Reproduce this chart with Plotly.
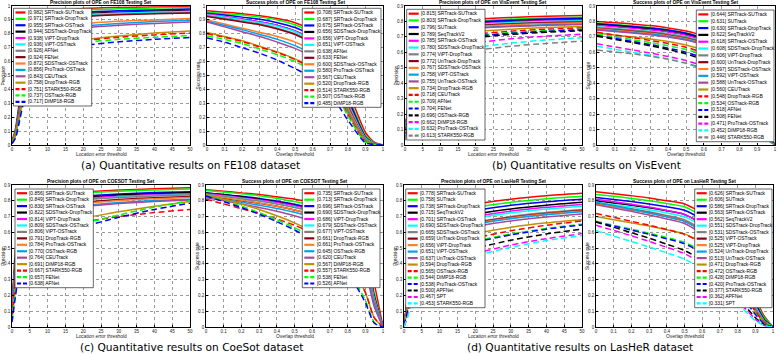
import plotly.graph_objects as go

W, H = 777, 354

# thresholds sampled on the x axis
PREC_X = [0, 1, 2, 3, 5, 8, 12, 20, 30, 40, 50]
SUCC_X = [0, 0.1, 0.2, 0.3, 0.4, 0.5, 0.6, 0.7, 0.8, 0.9, 0.95, 1.0]

PREC_TICKS = [0, 5, 10, 15, 20, 25, 30, 35, 40, 45, 50]
SUCC_TICKS = [0, 0.1, 0.2, 0.3, 0.4, 0.5, 0.6, 0.7, 0.8, 0.9, 1]
SUCC_TICK_TEXT = ['0', '0.1', '0.2', '0.3', '0.4', '0.5', '0.6', '0.7', '0.8', '0.9', '1']
Y_TICKS_10 = [0, 0.1, 0.2, 0.3, 0.4, 0.5, 0.6, 0.7, 0.8, 0.9, 1]
Y_TEXT_10 = ['0', '0.1', '0.2', '0.3', '0.4', '0.5', '0.6', '0.7', '0.8', '0.9', '1']
Y_TICKS_09 = [0, 0.1, 0.2, 0.3, 0.4, 0.5, 0.6, 0.7, 0.8, 0.9]
Y_TEXT_09 = ['0', '0.1', '0.2', '0.3', '0.4', '0.5', '0.6', '0.7', '0.8', '0.9']

# ---------------- FE108 ----------------
FE108_PREC_NAMES = ['SRTrack-SUTrack', 'SRTrack-DropTrack', 'SRTrack-OSTrack', 'SDSTrack-DropTrack',
                    'ViPT-DropTrack', 'ViPT-OSTrack', 'AFNet', 'FENet', 'SDSTrack-OSTrack',
                    'ProTrack-OSTrack', 'CEUTrack', 'DropTrack-RGB', 'STARK550-RGB', 'OSTrack-RGB',
                    'DiMP18-RGB']
FE108_PREC_SCORES = [0.982, 0.971, 0.955, 0.944, 0.938, 0.936, 0.926, 0.924, 0.872, 0.856,
                     0.843, 0.758, 0.751, 0.737, 0.717]
FE108_PREC_Y = [
    [0.03, 0.12, 0.30, 0.48, 0.72, 0.88, 0.95, 0.982, 0.99, 0.993, 0.995],
    [0.02, 0.11, 0.28, 0.46, 0.70, 0.87, 0.94, 0.971, 0.98, 0.985, 0.99],
    [0.02, 0.10, 0.27, 0.44, 0.68, 0.85, 0.93, 0.955, 0.965, 0.972, 0.978],
    [0.02, 0.10, 0.26, 0.43, 0.67, 0.84, 0.92, 0.944, 0.955, 0.962, 0.968],
    [0.02, 0.09, 0.25, 0.42, 0.66, 0.83, 0.91, 0.938, 0.95, 0.957, 0.963],
    [0.02, 0.09, 0.25, 0.41, 0.65, 0.83, 0.91, 0.936, 0.948, 0.955, 0.96],
    [0.02, 0.09, 0.24, 0.40, 0.64, 0.82, 0.90, 0.926, 0.94, 0.947, 0.952],
    [0.02, 0.08, 0.24, 0.40, 0.63, 0.81, 0.90, 0.924, 0.937, 0.944, 0.95],
    [0.02, 0.08, 0.22, 0.37, 0.59, 0.76, 0.84, 0.872, 0.89, 0.90, 0.91],
    [0.01, 0.08, 0.21, 0.36, 0.58, 0.75, 0.83, 0.856, 0.875, 0.888, 0.897],
    [0.01, 0.07, 0.20, 0.35, 0.57, 0.74, 0.82, 0.843, 0.862, 0.875, 0.885],
    [0.01, 0.07, 0.19, 0.32, 0.52, 0.67, 0.73, 0.758, 0.785, 0.805, 0.82],
    [0.01, 0.06, 0.18, 0.31, 0.51, 0.66, 0.72, 0.751, 0.775, 0.792, 0.805],
    [0.01, 0.06, 0.17, 0.30, 0.50, 0.65, 0.71, 0.737, 0.76, 0.775, 0.787],
    [0.01, 0.05, 0.16, 0.28, 0.48, 0.63, 0.69, 0.717, 0.742, 0.76, 0.773],
]

FE108_SUCC_NAMES = FE108_PREC_NAMES
FE108_SUCC_SCORES = [0.708, 0.687, 0.675, 0.656, 0.656, 0.651, 0.638, 0.633, 0.600, 0.580,
                     0.567, 0.520, 0.514, 0.507, 0.485]
FE108_SUCC_Y = [
    [0.965, 0.955, 0.945, 0.93, 0.91, 0.88, 0.82, 0.68, 0.40, 0.09, 0.02, 0],
    [0.955, 0.945, 0.935, 0.92, 0.90, 0.865, 0.80, 0.65, 0.36, 0.07, 0.015, 0],
    [0.948, 0.935, 0.92, 0.905, 0.88, 0.845, 0.78, 0.63, 0.34, 0.06, 0.012, 0],
    [0.935, 0.92, 0.905, 0.885, 0.86, 0.82, 0.755, 0.60, 0.32, 0.05, 0.01, 0],
    [0.94, 0.925, 0.905, 0.885, 0.86, 0.82, 0.75, 0.60, 0.31, 0.05, 0.01, 0],
    [0.935, 0.92, 0.90, 0.88, 0.855, 0.815, 0.745, 0.595, 0.30, 0.05, 0.01, 0],
    [0.93, 0.91, 0.89, 0.87, 0.84, 0.80, 0.73, 0.58, 0.29, 0.045, 0.009, 0],
    [0.925, 0.905, 0.885, 0.865, 0.835, 0.795, 0.725, 0.57, 0.28, 0.04, 0.008, 0],
    [0.90, 0.87, 0.84, 0.81, 0.78, 0.74, 0.68, 0.55, 0.27, 0.04, 0.008, 0],
    [0.89, 0.86, 0.83, 0.795, 0.76, 0.715, 0.65, 0.52, 0.25, 0.035, 0.007, 0],
    [0.885, 0.85, 0.815, 0.78, 0.74, 0.695, 0.63, 0.50, 0.24, 0.03, 0.006, 0],
    [0.81, 0.78, 0.75, 0.71, 0.67, 0.62, 0.56, 0.46, 0.23, 0.03, 0.006, 0],
    [0.80, 0.775, 0.745, 0.705, 0.665, 0.615, 0.55, 0.45, 0.22, 0.025, 0.005, 0],
    [0.785, 0.76, 0.73, 0.69, 0.65, 0.60, 0.535, 0.44, 0.21, 0.02, 0.004, 0],
    [0.77, 0.74, 0.70, 0.66, 0.61, 0.55, 0.48, 0.37, 0.18, 0.015, 0.003, 0],
]

# ---------------- VisEvent ----------------
VIS_PREC_NAMES = ['SRTrack-SUTrack', 'SRTrack-DropTrack', 'SUTrack', 'SeqTrackV2', 'SRTrack-OSTrack',
                  'SDSTrack-DropTrack', 'ViPT-DropTrack', 'UnTrack-DropTrack', 'SDSTrack-OSTrack',
                  'ViPT-OSTrack', 'UnTrack-OSTrack', 'DropTrack-RGB', 'CEUTrack', 'AFNet', 'FENet',
                  'OSTrack-RGB', 'DiMP18-RGB', 'ProTrack-OSTrack', 'STARK550-RGB']
VIS_PREC_SCORES = [0.815, 0.803, 0.796, 0.789, 0.785, 0.780, 0.774, 0.772, 0.767, 0.758, 0.755,
                   0.734, 0.718, 0.709, 0.704, 0.696, 0.662, 0.632, 0.613]
VIS_PREC_Y = [
    [0.08, 0.30, 0.50, 0.62, 0.72, 0.77, 0.795, 0.815, 0.826, 0.833, 0.838],
    [0.07, 0.29, 0.49, 0.61, 0.71, 0.76, 0.784, 0.803, 0.815, 0.822, 0.827],
    [0.07, 0.28, 0.48, 0.60, 0.70, 0.75, 0.777, 0.796, 0.808, 0.816, 0.821],
    [0.07, 0.28, 0.48, 0.60, 0.695, 0.745, 0.77, 0.789, 0.80, 0.808, 0.813],
    [0.07, 0.27, 0.47, 0.59, 0.69, 0.74, 0.765, 0.785, 0.797, 0.805, 0.81],
    [0.06, 0.27, 0.47, 0.59, 0.685, 0.735, 0.76, 0.780, 0.792, 0.80, 0.805],
    [0.06, 0.26, 0.46, 0.58, 0.68, 0.73, 0.755, 0.774, 0.786, 0.794, 0.80],
    [0.06, 0.26, 0.46, 0.58, 0.675, 0.725, 0.752, 0.772, 0.784, 0.792, 0.797],
    [0.06, 0.26, 0.45, 0.57, 0.67, 0.72, 0.747, 0.767, 0.779, 0.787, 0.792],
    [0.06, 0.25, 0.45, 0.56, 0.66, 0.71, 0.738, 0.758, 0.77, 0.778, 0.783],
    [0.05, 0.25, 0.44, 0.56, 0.655, 0.705, 0.735, 0.755, 0.767, 0.775, 0.78],
    [0.05, 0.23, 0.42, 0.53, 0.63, 0.68, 0.71, 0.734, 0.75, 0.76, 0.767],
    [0.05, 0.22, 0.40, 0.51, 0.61, 0.66, 0.693, 0.718, 0.737, 0.75, 0.758],
    [0.05, 0.22, 0.39, 0.50, 0.60, 0.65, 0.684, 0.709, 0.728, 0.741, 0.75],
    [0.04, 0.21, 0.39, 0.50, 0.595, 0.645, 0.679, 0.704, 0.723, 0.736, 0.745],
    [0.04, 0.21, 0.38, 0.49, 0.585, 0.635, 0.67, 0.696, 0.716, 0.73, 0.74],
    [0.04, 0.19, 0.35, 0.46, 0.55, 0.60, 0.635, 0.662, 0.688, 0.705, 0.717],
    [0.03, 0.17, 0.32, 0.43, 0.52, 0.57, 0.605, 0.632, 0.66, 0.68, 0.695],
    [0.03, 0.16, 0.31, 0.41, 0.50, 0.55, 0.587, 0.613, 0.64, 0.658, 0.672],
]

VIS_SUCC_NAMES = ['SRTrack-SUTrack', 'SUTrack', 'SRTrack-DropTrack', 'SeqTrackV2', 'SRTrack-OSTrack',
                  'SDSTrack-DropTrack', 'ViPT-DropTrack', 'UnTrack-DropTrack', 'SDSTrack-OSTrack',
                  'ViPT-OSTrack', 'UnTrack-OSTrack', 'CEUTrack', 'DropTrack-RGB', 'OSTrack-RGB',
                  'AFNet', 'FENet', 'ProTrack-OSTrack', 'DiMP18-RGB', 'STARK550-RGB']
VIS_SUCC_SCORES = [0.644, 0.631, 0.630, 0.622, 0.618, 0.608, 0.606, 0.600, 0.597, 0.592, 0.588,
                   0.560, 0.548, 0.534, 0.518, 0.508, 0.471, 0.452, 0.446]
VIS_SUCC_Y = [
    [0.80, 0.792, 0.783, 0.773, 0.758, 0.738, 0.705, 0.645, 0.52, 0.30, 0.10, 0],
    [0.79, 0.78, 0.77, 0.76, 0.745, 0.725, 0.69, 0.63, 0.505, 0.285, 0.095, 0],
    [0.785, 0.777, 0.768, 0.758, 0.744, 0.724, 0.69, 0.63, 0.505, 0.29, 0.095, 0],
    [0.78, 0.77, 0.76, 0.75, 0.735, 0.715, 0.68, 0.62, 0.495, 0.28, 0.09, 0],
    [0.775, 0.766, 0.756, 0.746, 0.731, 0.711, 0.677, 0.617, 0.492, 0.275, 0.09, 0],
    [0.765, 0.755, 0.745, 0.735, 0.72, 0.70, 0.667, 0.607, 0.483, 0.27, 0.088, 0],
    [0.76, 0.752, 0.743, 0.733, 0.718, 0.698, 0.665, 0.605, 0.482, 0.27, 0.087, 0],
    [0.755, 0.746, 0.736, 0.726, 0.711, 0.691, 0.658, 0.60, 0.478, 0.265, 0.085, 0],
    [0.752, 0.743, 0.733, 0.723, 0.708, 0.688, 0.655, 0.597, 0.475, 0.263, 0.085, 0],
    [0.748, 0.738, 0.728, 0.718, 0.703, 0.683, 0.65, 0.592, 0.47, 0.26, 0.083, 0],
    [0.745, 0.735, 0.725, 0.714, 0.699, 0.679, 0.646, 0.588, 0.466, 0.257, 0.082, 0],
    [0.725, 0.712, 0.70, 0.687, 0.67, 0.648, 0.614, 0.556, 0.44, 0.24, 0.077, 0],
    [0.73, 0.712, 0.695, 0.677, 0.657, 0.633, 0.597, 0.537, 0.42, 0.22, 0.07, 0],
    [0.72, 0.70, 0.682, 0.663, 0.642, 0.618, 0.582, 0.522, 0.405, 0.21, 0.066, 0],
    [0.71, 0.69, 0.67, 0.65, 0.627, 0.601, 0.563, 0.50, 0.385, 0.195, 0.06, 0],
    [0.705, 0.684, 0.663, 0.642, 0.618, 0.59, 0.55, 0.487, 0.37, 0.185, 0.057, 0],
    [0.655, 0.635, 0.615, 0.595, 0.573, 0.547, 0.51, 0.45, 0.345, 0.17, 0.052, 0],
    [0.64, 0.62, 0.60, 0.58, 0.556, 0.528, 0.49, 0.43, 0.32, 0.14, 0.04, 0],
    [0.615, 0.603, 0.59, 0.575, 0.555, 0.53, 0.494, 0.435, 0.325, 0.15, 0.045, 0],
]

# ---------------- COESOT ----------------
COE_PREC_NAMES = ['SRTrack-SUTrack', 'SRTrack-DropTrack', 'SRTrack-OSTrack', 'SDSTrack-DropTrack',
                  'ViPT-DropTrack', 'SDSTrack-OSTrack', 'ViPT-OSTrack', 'DropTrack-RGB',
                  'ProTrack-OSTrack', 'OSTrack-RGB', 'CEUTrack', 'DiMP18-RGB', 'STARK550-RGB',
                  'FENet', 'AFNet']
COE_PREC_SCORES = [0.856, 0.849, 0.830, 0.822, 0.814, 0.809, 0.806, 0.791, 0.784, 0.770, 0.764,
                   0.691, 0.667, 0.657, 0.638]
COE_PREC_Y = [
    [0.14, 0.50, 0.66, 0.74, 0.80, 0.83, 0.845, 0.856, 0.868, 0.876, 0.882],
    [0.12, 0.47, 0.64, 0.72, 0.79, 0.82, 0.838, 0.849, 0.861, 0.869, 0.875],
    [0.10, 0.44, 0.61, 0.70, 0.77, 0.80, 0.818, 0.830, 0.843, 0.852, 0.858],
    [0.10, 0.43, 0.60, 0.69, 0.76, 0.79, 0.81, 0.822, 0.836, 0.845, 0.852],
    [0.10, 0.42, 0.59, 0.68, 0.75, 0.785, 0.802, 0.814, 0.829, 0.838, 0.845],
    [0.09, 0.41, 0.58, 0.67, 0.745, 0.78, 0.797, 0.809, 0.824, 0.834, 0.84],
    [0.09, 0.40, 0.58, 0.67, 0.74, 0.775, 0.794, 0.806, 0.821, 0.831, 0.838],
    [0.08, 0.38, 0.56, 0.65, 0.725, 0.76, 0.779, 0.791, 0.808, 0.819, 0.827],
    [0.08, 0.37, 0.55, 0.64, 0.715, 0.75, 0.771, 0.784, 0.801, 0.813, 0.821],
    [0.07, 0.35, 0.53, 0.62, 0.70, 0.735, 0.757, 0.770, 0.789, 0.801, 0.81],
    [0.07, 0.34, 0.52, 0.61, 0.69, 0.728, 0.75, 0.764, 0.783, 0.796, 0.805],
    [0.05, 0.26, 0.42, 0.52, 0.60, 0.645, 0.672, 0.691, 0.73, 0.765, 0.795],
    [0.06, 0.28, 0.43, 0.52, 0.59, 0.63, 0.652, 0.667, 0.70, 0.725, 0.745],
    [0.04, 0.23, 0.38, 0.48, 0.56, 0.605, 0.634, 0.657, 0.71, 0.76, 0.80],
    [0.03, 0.20, 0.35, 0.45, 0.53, 0.58, 0.612, 0.638, 0.695, 0.745, 0.785],
]

COE_SUCC_NAMES = COE_PREC_NAMES
COE_SUCC_SCORES = [0.735, 0.713, 0.696, 0.690, 0.686, 0.679, 0.677, 0.661, 0.661, 0.645, 0.620,
                   0.567, 0.557, 0.538, 0.526]
COE_SUCC_Y = [
    [0.87, 0.86, 0.85, 0.84, 0.825, 0.81, 0.79, 0.755, 0.69, 0.52, 0.28, 0],
    [0.865, 0.855, 0.845, 0.832, 0.815, 0.795, 0.77, 0.73, 0.66, 0.47, 0.22, 0],
    [0.85, 0.84, 0.828, 0.815, 0.798, 0.778, 0.752, 0.71, 0.635, 0.45, 0.20, 0],
    [0.85, 0.838, 0.825, 0.81, 0.793, 0.772, 0.745, 0.703, 0.628, 0.44, 0.19, 0],
    [0.845, 0.834, 0.82, 0.806, 0.789, 0.768, 0.741, 0.70, 0.624, 0.435, 0.185, 0],
    [0.84, 0.828, 0.815, 0.80, 0.782, 0.76, 0.733, 0.692, 0.615, 0.425, 0.18, 0],
    [0.84, 0.827, 0.813, 0.798, 0.78, 0.758, 0.731, 0.69, 0.612, 0.42, 0.175, 0],
    [0.83, 0.816, 0.80, 0.784, 0.765, 0.742, 0.714, 0.672, 0.592, 0.40, 0.16, 0],
    [0.835, 0.82, 0.803, 0.786, 0.766, 0.742, 0.713, 0.67, 0.59, 0.40, 0.16, 0],
    [0.825, 0.808, 0.79, 0.772, 0.751, 0.727, 0.697, 0.653, 0.57, 0.38, 0.15, 0],
    [0.82, 0.80, 0.78, 0.758, 0.733, 0.705, 0.672, 0.624, 0.535, 0.35, 0.13, 0],
    [0.84, 0.81, 0.78, 0.745, 0.705, 0.66, 0.605, 0.535, 0.42, 0.22, 0.06, 0],
    [0.81, 0.78, 0.75, 0.72, 0.685, 0.645, 0.595, 0.53, 0.42, 0.22, 0.06, 0],
    [0.835, 0.80, 0.765, 0.725, 0.68, 0.63, 0.57, 0.49, 0.37, 0.17, 0.03, 0],
    [0.83, 0.795, 0.757, 0.715, 0.668, 0.615, 0.553, 0.472, 0.35, 0.155, 0.025, 0],
]

# ---------------- LasHeR ----------------
LAS_PREC_NAMES = ['SRTrack-SUTrack', 'SUTrack', 'SRTrack-DropTrack', 'SeqTrackV2', 'SRTrack-OSTrack',
                  'SDSTrack-DropTrack', 'SDSTrack-OSTrack', 'UnTrack-DropTrack', 'ViPT-DropTrack',
                  'ViPT-OSTrack', 'UnTrack-OSTrack', 'DropTrack-RGB', 'OSTrack-RGB', 'DiMP18-RGB',
                  'ProTrack-OSTrack', 'APFNet', 'SPT', 'STARK550-RGB']
LAS_PREC_SCORES = [0.778, 0.758, 0.738, 0.715, 0.701, 0.690, 0.665, 0.659, 0.656, 0.651, 0.637,
                   0.594, 0.565, 0.544, 0.538, 0.500, 0.467, 0.453]
LAS_PREC_Y = [
    [0.01, 0.20, 0.36, 0.47, 0.60, 0.69, 0.74, 0.778, 0.81, 0.832, 0.847],
    [0.01, 0.18, 0.34, 0.45, 0.58, 0.67, 0.72, 0.758, 0.79, 0.813, 0.828],
    [0.01, 0.17, 0.32, 0.43, 0.56, 0.65, 0.70, 0.738, 0.771, 0.794, 0.81],
    [0.01, 0.16, 0.31, 0.42, 0.54, 0.63, 0.68, 0.715, 0.748, 0.772, 0.79],
    [0.01, 0.15, 0.30, 0.41, 0.53, 0.615, 0.665, 0.701, 0.735, 0.759, 0.777],
    [0.01, 0.15, 0.29, 0.40, 0.52, 0.605, 0.655, 0.690, 0.724, 0.748, 0.766],
    [0.01, 0.14, 0.28, 0.38, 0.50, 0.58, 0.63, 0.665, 0.70, 0.725, 0.744],
    [0.01, 0.14, 0.27, 0.38, 0.495, 0.575, 0.625, 0.659, 0.694, 0.719, 0.738],
    [0.01, 0.14, 0.27, 0.37, 0.49, 0.57, 0.62, 0.656, 0.691, 0.716, 0.735],
    [0.01, 0.13, 0.27, 0.37, 0.485, 0.565, 0.615, 0.651, 0.686, 0.711, 0.73],
    [0.01, 0.13, 0.26, 0.36, 0.475, 0.55, 0.60, 0.637, 0.672, 0.697, 0.716],
    [0.01, 0.12, 0.24, 0.33, 0.44, 0.51, 0.56, 0.594, 0.632, 0.66, 0.68],
    [0.01, 0.11, 0.22, 0.31, 0.41, 0.48, 0.53, 0.565, 0.61, 0.645, 0.672],
    [0.01, 0.10, 0.21, 0.29, 0.39, 0.46, 0.51, 0.544, 0.59, 0.625, 0.652],
    [0.01, 0.10, 0.20, 0.29, 0.385, 0.455, 0.505, 0.538, 0.584, 0.62, 0.647],
    [0.00, 0.08, 0.18, 0.26, 0.35, 0.42, 0.465, 0.500, 0.55, 0.59, 0.62],
    [0.00, 0.07, 0.16, 0.24, 0.32, 0.385, 0.43, 0.467, 0.52, 0.56, 0.592],
    [0.00, 0.06, 0.15, 0.23, 0.31, 0.37, 0.415, 0.453, 0.505, 0.548, 0.58],
]

LAS_SUCC_NAMES = ['SRTrack-SUTrack', 'SUTrack', 'SRTrack-DropTrack', 'SRTrack-OSTrack', 'SeqTrackV2',
                  'SDSTrack-DropTrack', 'SDSTrack-OSTrack', 'ViPT-OSTrack', 'ViPT-DropTrack',
                  'UnTrack-DropTrack', 'UnTrack-OSTrack', 'DropTrack-RGB', 'OSTrack-RGB', 'DiMP18-RGB',
                  'ProTrack-OSTrack', 'STARK550-RGB', 'APFNet', 'SPT']
LAS_SUCC_SCORES = [0.626, 0.606, 0.586, 0.563, 0.562, 0.551, 0.531, 0.525, 0.525, 0.524, 0.513,
                   0.471, 0.472, 0.428, 0.420, 0.377, 0.362, 0.331]
LAS_SUCC_Y = [
    [0.857, 0.845, 0.832, 0.818, 0.80, 0.78, 0.72, 0.60, 0.42, 0.18, 0.07, 0],
    [0.84, 0.828, 0.815, 0.80, 0.783, 0.762, 0.70, 0.58, 0.40, 0.165, 0.06, 0],
    [0.82, 0.808, 0.795, 0.78, 0.762, 0.74, 0.68, 0.56, 0.38, 0.15, 0.05, 0],
    [0.80, 0.786, 0.772, 0.756, 0.737, 0.714, 0.652, 0.532, 0.355, 0.135, 0.045, 0],
    [0.81, 0.794, 0.778, 0.76, 0.739, 0.714, 0.65, 0.528, 0.35, 0.13, 0.04, 0],
    [0.79, 0.775, 0.76, 0.743, 0.723, 0.699, 0.637, 0.517, 0.343, 0.13, 0.04, 0],
    [0.785, 0.768, 0.75, 0.73, 0.707, 0.68, 0.615, 0.495, 0.325, 0.12, 0.035, 0],
    [0.785, 0.765, 0.745, 0.724, 0.70, 0.672, 0.607, 0.488, 0.32, 0.115, 0.035, 0],
    [0.78, 0.762, 0.743, 0.723, 0.70, 0.673, 0.608, 0.49, 0.32, 0.115, 0.035, 0],
    [0.79, 0.768, 0.746, 0.723, 0.698, 0.67, 0.605, 0.486, 0.318, 0.112, 0.033, 0],
    [0.775, 0.754, 0.733, 0.71, 0.685, 0.656, 0.59, 0.472, 0.307, 0.108, 0.03, 0],
    [0.70, 0.68, 0.66, 0.64, 0.617, 0.59, 0.535, 0.435, 0.285, 0.10, 0.03, 0],
    [0.72, 0.695, 0.67, 0.645, 0.618, 0.588, 0.53, 0.43, 0.28, 0.10, 0.03, 0],
    [0.67, 0.645, 0.62, 0.595, 0.567, 0.537, 0.48, 0.385, 0.245, 0.085, 0.025, 0],
    [0.665, 0.64, 0.614, 0.588, 0.559, 0.528, 0.47, 0.375, 0.235, 0.08, 0.02, 0],
    [0.665, 0.632, 0.598, 0.563, 0.525, 0.485, 0.42, 0.32, 0.19, 0.06, 0.015, 0],
    [0.645, 0.612, 0.578, 0.543, 0.505, 0.465, 0.40, 0.30, 0.17, 0.05, 0.01, 0],
    [0.61, 0.576, 0.542, 0.507, 0.47, 0.43, 0.365, 0.27, 0.15, 0.04, 0.01, 0],
]

CAPTIONS = ['(a) Quantitative results on FE108 dataset', '(b) Quantitative results on VisEvent',
            '(c) Quantitative results on CoeSot dataset', '(d) Quantitative results on LasHeR dataset']

# matlab tracker-benchmark draw style
COLORS = ['#ff0000', '#00ff00', '#0000ff', '#000000', '#ff00ff', '#00ffff',
          '#808080', '#880015', '#ff7f27', '#00a2e8', '#a349a4', '#bf9000']

PREC = dict(x=PREC_X, xr=[0, 50], xt=PREC_TICKS, xtt=[str(v) for v in PREC_TICKS],
            xlab='Location error threshold', ylab='Precision')
SUCC = dict(x=SUCC_X, xr=[0, 1], xt=SUCC_TICKS, xtt=SUCC_TICK_TEXT,
            xlab='Overlap threshold', ylab='Success rate')

# plot boxes and legend boxes in pixels (left, top, right, bottom)
PANELS = [
    dict(PREC, names=FE108_PREC_NAMES, scores=FE108_PREC_SCORES, ys=FE108_PREC_Y,
         title='Precision plots of OPE on FE108 Testing Set', ytop=1.0, yt=Y_TICKS_10, ytt=Y_TEXT_10,
         box=(12, 6, 190, 145), leg=(13.5, 8.3, 91.7, 106)),
    dict(SUCC, names=FE108_SUCC_NAMES, scores=FE108_SUCC_SCORES, ys=FE108_SUCC_Y,
         title='Success plots of OPE on FE108 Testing Set', ytop=1.0, yt=Y_TICKS_10, ytt=Y_TEXT_10,
         box=(207, 6, 383, 145), leg=(302.3, 8.3, 381, 107.3)),
    dict(PREC, names=VIS_PREC_NAMES, scores=VIS_PREC_SCORES, ys=VIS_PREC_Y,
         title='Precision plots of OPE on VisEvent Testing Set', ytop=0.9, yt=Y_TICKS_09, ytt=Y_TEXT_09,
         box=(405, 6, 582, 145), leg=(406.7, 9.3, 485, 140)),
    dict(SUCC, names=VIS_SUCC_NAMES, scores=VIS_SUCC_SCORES, ys=VIS_SUCC_Y,
         title='Success plots of OPE on VisEvent Testing Set', ytop=0.9, yt=Y_TICKS_09, ytt=Y_TEXT_09,
         box=(597, 6, 775, 145), leg=(696.3, 10, 774, 141.7)),
    dict(PREC, names=COE_PREC_NAMES, scores=COE_PREC_SCORES, ys=COE_PREC_Y,
         title='Precision plots of OPE on COESOT Testing Set', ytop=0.9, yt=Y_TICKS_09, ytt=Y_TEXT_09,
         box=(12, 185, 190, 327), leg=(15, 189, 93.3, 287.7)),
    dict(SUCC, names=COE_SUCC_NAMES, scores=COE_SUCC_SCORES, ys=COE_SUCC_Y,
         title='Success plots of OPE on COESOT Testing Set', ytop=0.9, yt=Y_TICKS_09, ytt=Y_TEXT_09,
         box=(206, 185, 383, 327), leg=(302.3, 189, 380, 287.7)),
    dict(PREC, names=LAS_PREC_NAMES, scores=LAS_PREC_SCORES, ys=LAS_PREC_Y,
         title='Precision plots of OPE on LasHeR Testing Set', ytop=0.9, yt=Y_TICKS_09, ytt=Y_TEXT_09,
         box=(404, 185, 582, 327), leg=(405.7, 189, 485, 307.7)),
    dict(SUCC, names=LAS_SUCC_NAMES, scores=LAS_SUCC_SCORES, ys=LAS_SUCC_Y,
         title='Success plots of OPE on LasHeR Testing Set', ytop=0.9, yt=Y_TICKS_09, ytt=Y_TEXT_09,
         box=(596, 185, 773, 327), leg=(694.7, 189, 772, 307.7)),
]
CAPTION_POS = [(190, 165), (586, 165), (191, 347), (580, 347)]


def px(x):
    return x / W


def py(y):
    return 1 - y / H


def style(i):
    return COLORS[i % 12], ('solid' if i < 12 else 'dash')


fig = go.Figure()
shapes = []
annos = []
AX = dict(showline=True, mirror=True, linecolor='black', linewidth=0.7,
          showgrid=True, gridcolor='#9a9a9a', gridwidth=0.6, griddash='dot',
          zeroline=False, ticks='inside', ticklen=2, tickcolor='black', tickwidth=0.6,
          tickfont=dict(size=4.5, color='#222', family='Liberation Sans'), automargin=False)

for k, p in enumerate(PANELS):
    sfx = '' if k == 0 else str(k + 1)
    x0, y0, x1, y1 = p['box']
    for i, yv in enumerate(p['ys']):
        col, dash = style(i)
        fig.add_trace(go.Scatter(
            x=p['x'], y=yv, mode='lines', name=p['names'][i],
            xaxis='x' + sfx, yaxis='y' + sfx, showlegend=False, hoverinfo='skip',
            line=dict(color=col, width=1.5, dash='6px,3.5px' if dash == 'dash' else 'solid',
                      shape='spline', smoothing=0.6)))
    fig.update_layout(**{
        'xaxis' + sfx: dict(AX, domain=[px(x0), px(x1)], anchor='y' + sfx, range=p['xr'],
                            tickvals=p['xt'], ticktext=p['xtt']),
        'yaxis' + sfx: dict(AX, domain=[py(y1), py(y0)], anchor='x' + sfx, range=[0, p['ytop']],
                            tickvals=p['yt'], ticktext=p['ytt']),
    })

    # title and axis labels
    annos.append(dict(text='<b>' + p['title'] + '</b>', x=px((x0 + x1) / 2), y=py(y0 - 3.6),
                      font=dict(size=4.8, family='Liberation Sans', color='black')))
    annos.append(dict(text=p['xlab'], x=px((x0 + x1) / 2), y=py(y1 + 9.5),
                      font=dict(size=4.8, family='Liberation Sans', color='#222')))
    annos.append(dict(text=p['ylab'], x=px(x0 - 9), y=py((y0 + y1) / 2), textangle=-90,
                      font=dict(size=4.8, family='Liberation Sans', color='#222')))

    # legend drawn by hand so the rows can be as tight as in the original
    lx0, ly0, lx1, ly1 = p['leg']
    n = len(p['names'])
    step = (ly1 - ly0 - 2) / n
    shapes.append(dict(type='rect', xref='paper', yref='paper', x0=px(lx0), x1=px(lx1),
                       y0=py(ly1), y1=py(ly0), fillcolor='white',
                       line=dict(color='black', width=0.6)))
    for i, (nm, sc) in enumerate(zip(p['names'], p['scores'])):
        col, dash = style(i)
        yc = ly0 + 1 + step * (i + 0.5)
        shapes.append(dict(type='line', xref='paper', yref='paper', x0=px(lx0 + 2), x1=px(lx0 + 12),
                           y0=py(yc), y1=py(yc),
                           line=dict(color=col, width=2.2, dash='4px,2px' if dash == 'dash' else 'solid')))
        annos.append(dict(text='[%.3f] %s' % (sc, nm), x=px(lx0 + 13.2), y=py(yc), xanchor='left',
                          font=dict(size=4.95, family='Liberation Sans', color='black')))

for cap, (cx, cy) in zip(CAPTIONS, CAPTION_POS):
    annos.append(dict(text=cap, x=px(cx), y=py(cy),
                      font=dict(size=10.6, family='DejaVu Sans', color='black')))

for a in annos:
    a.setdefault('xanchor', 'center')
    a.update(xref='paper', yref='paper', yanchor='middle', showarrow=False, borderpad=0)

fig.update_layout(width=W, height=H, margin=dict(l=0, r=0, t=0, b=0), autosize=False,
                  paper_bgcolor='white', plot_bgcolor='white', showlegend=False,
                  shapes=shapes, annotations=annos)

# the page body has a default 8px margin, drop it so the figure sits at 0,0
fig.write_html('out.html', config={'displayModeBar': False},
               post_script="document.body.style.margin='0px';")
